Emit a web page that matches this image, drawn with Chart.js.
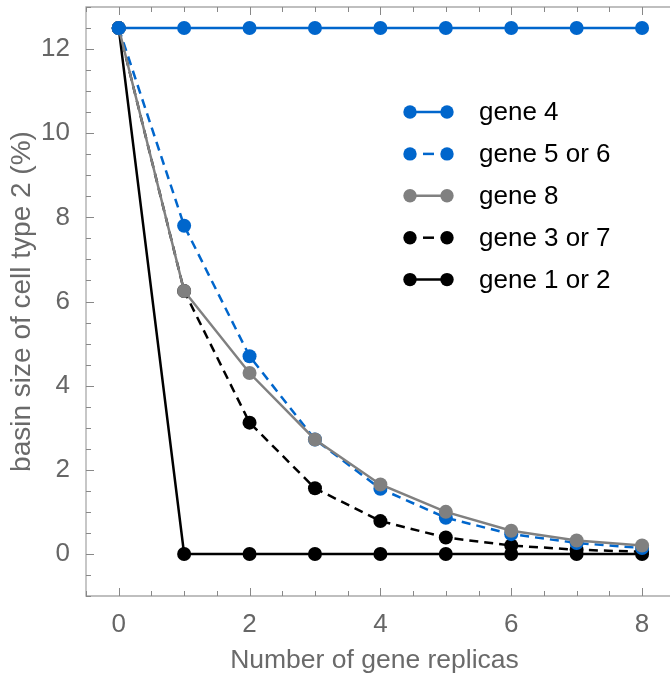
<!DOCTYPE html>
<html>
  <head>
    <script src="https://cdn.jsdelivr.net/npm/chart.js@4"></script>
    <style>
      html, body { margin: 0; padding: 0; overflow: hidden; background: #fff; }
    </style>
  </head>

  <body>
    <canvas id="canvas" width="670" height="675"></canvas>
    <script>
      const replicas = [0, 1, 2, 3, 4, 5, 6, 7, 8];
      const gene4 = [12.5, 12.5, 12.5, 12.5, 12.5, 12.5, 12.5, 12.5, 12.5];
      const gene56 = [12.5, 7.8, 4.7, 2.72, 1.55, 0.86, 0.47, 0.26, 0.14];
      const gene8 = [12.5, 6.25, 4.3, 2.72, 1.65, 1.0, 0.55, 0.32, 0.2];
      const gene37 = [12.5, 6.25, 3.12, 1.56, 0.78, 0.39, 0.2, 0.1, 0.05];
      const gene12 = [12.5, 0, 0, 0, 0, 0, 0, 0, 0];
      const xTicks = [0, 2, 4, 6, 8];
      const yTicks = [0, 2, 4, 6, 8, 10, 12];

      const BLUE = '#0066cc';
      const GRAY = '#808080';
      const FONT = "'Liberation Sans', Arial, sans-serif";

      const pts = (ys) => replicas.map((x, i) => ({ x: x, y: ys[i] }));

      function series(label, ys, color, dashed, order) {
        return {
          label: label,
          data: pts(ys),
          borderColor: color,
          backgroundColor: color,
          borderWidth: 2.5,
          borderDash: dashed ? [9, 6] : [],
          pointRadius: 7,
          pointBorderWidth: 0,
          pointHoverRadius: 7,
          tension: 0,
          clip: false,
          order: order,
          dashed: dashed,
        };
      }

      // frame with inward ticks (right side falls off the picture)
      const framePlugin = {
        id: 'frame',
        beforeDatasetsDraw(chart) {
          const { ctx, chartArea: a, scales } = chart;
          const edge = chart.width + 2;
          ctx.save();
          ctx.strokeStyle = '#aaaaaa';
          ctx.lineWidth = 1.3;
          ctx.beginPath();
          ctx.moveTo(edge, a.top); ctx.lineTo(a.left, a.top);
          ctx.lineTo(a.left, a.bottom); ctx.lineTo(edge, a.bottom);
          ctx.stroke();
          ctx.strokeStyle = '#888888';
          ctx.lineWidth = 1;
          ctx.beginPath();
          for (let v = -0.5; v <= 8.5; v += 0.5) {
            const px = Math.round(scales.x.getPixelForValue(v)) + 0.5;
            const len = v % 2 === 0 ? 8 : 5;
            ctx.moveTo(px, a.bottom); ctx.lineTo(px, a.bottom - len);
            ctx.moveTo(px, a.top); ctx.lineTo(px, a.top + len);
          }
          for (let v = -1; v <= 13; v += 0.5) {
            const py = Math.round(scales.y.getPixelForValue(v)) + 0.5;
            const len = v % 2 === 0 ? 8 : 5;
            ctx.moveTo(a.left, py); ctx.lineTo(a.left + len, py);
          }
          ctx.stroke();
          ctx.restore();
        },
      };

      // legend: line with a dot at each end, inside the plot
      const legendPlugin = {
        id: 'dotLegend',
        afterDraw(chart) {
          const ctx = chart.ctx;
          ctx.save();
          chart.data.datasets.forEach((ds, i) => {
            const y = 112 + i * 41.9;
            const x1 = 410, x2 = 447;
            ctx.strokeStyle = ds.borderColor;
            ctx.fillStyle = ds.borderColor;
            ctx.lineWidth = 2.5;
            ctx.beginPath();
            if (ds.dashed) {
              ctx.moveTo(423, y); ctx.lineTo(434, y);
            } else {
              ctx.moveTo(x1, y); ctx.lineTo(x2, y);
            }
            ctx.stroke();
            [x1, x2].forEach((x) => {
              ctx.beginPath();
              ctx.arc(x, y, 6.7, 0, Math.PI * 2);
              ctx.fill();
            });
            ctx.fillStyle = '#000';
            ctx.font = '26px ' + FONT;
            ctx.textBaseline = 'middle';
            ctx.fillText(ds.label, 479, y + 1);
          });
          ctx.restore();
        },
      };

      new Chart(document.getElementById('canvas').getContext('2d'), {
        type: 'line',
        data: {
          datasets: [
            series('gene 4', gene4, BLUE, false, 0),
            series('gene 5 or 6', gene56, BLUE, true, 2),
            series('gene 8', gene8, GRAY, false, 1),
            series('gene 3 or 7', gene37, '#000000', true, 3),
            series('gene 1 or 2', gene12, '#000000', false, 4),
          ],
        },
        options: {
          responsive: false,
          animation: false,
          layout: { padding: { top: 5, right: 0, left: 0, bottom: 0 } },
          plugins: {
            legend: { display: false },
            tooltip: { enabled: false },
          },
          scales: {
            x: {
              type: 'linear',
              min: -0.5,
              max: 8.32,
              grid: { display: false },
              border: { display: false },
              afterBuildTicks: (s) => { s.ticks = xTicks.map((v) => ({ value: v })); },
              afterFit: (s) => {
                s.height = 79;
                s.paddingLeft = 0;
                s.paddingRight = 0;
              },
              ticks: {
                color: '#666666',
                padding: 5,
                maxRotation: 0,
                font: { family: FONT, size: 26 },
              },
              title: {
                display: true,
                text: 'Number of gene replicas',
                color: '#6a6a6a',
                padding: { top: 0, bottom: 0 },
                font: { family: FONT, size: 26.5, lineHeight: 1.1 },
              },
            },
            y: {
              type: 'linear',
              min: -1,
              max: 13,
              grid: { display: false },
              border: { display: false },
              afterBuildTicks: (s) => { s.ticks = yTicks.map((v) => ({ value: v })); },
              afterFit: (s) => {
                s.width = 86;
                s.paddingTop = 0;
                s.paddingBottom = 0;
              },
              ticks: {
                color: '#666666',
                padding: 8,
                font: { family: FONT, size: 26 },
              },
              title: {
                display: true,
                text: 'basin size of cell type 2 (%)',
                color: '#6a6a6a',
                padding: { top: 5, bottom: 0 },
                font: { family: FONT, size: 28 },
              },
            },
          },
        },
        plugins: [framePlugin, legendPlugin],
      });
    </script>
  </body>
</html>
